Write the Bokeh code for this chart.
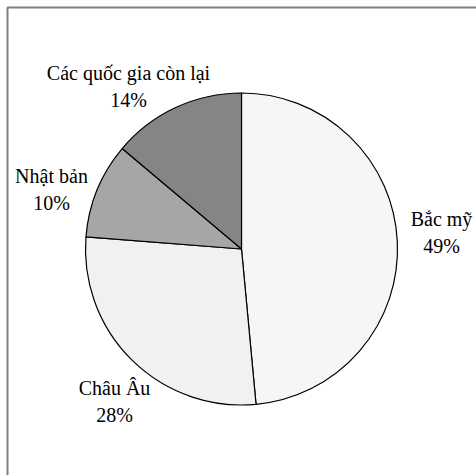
import math
from bokeh.plotting import figure
from bokeh.models import Range1d, ColumnDataSource, BoxAnnotation
from bokeh.core.properties import value
from bokeh.embed import file_html
from bokeh.resources import INLINE

# data
categories = ["Bắc mỹ", "Châu Âu", "Nhật bản", "Các quốc gia còn lại"]
values = [49, 28, 10, 14]
value_labels = ["49%", "28%", "10%", "14%"]

# styles / layout
colors = ["#f6f6f6", "#f1f1f1", "#a6a6a6", "#858585"]
W, H = 476, 475
cx, cy = 241, H - 248.5   # pie centre (data units = px)
R = 156
# label block centres (screen offsets from pie centre, px)
label_dx = [200, -127, -190, -113]
label_dy = [-17, 152, -60, -163]
line_gap = 13.5

total = sum(values)
starts, ends = [], []
a = math.pi / 2
for v in values:
    starts.append(a)
    a -= 2 * math.pi * v / total
    ends.append(a)

src = ColumnDataSource(dict(start=starts, end=ends, color=colors))

p = figure(width=W, height=H, output_backend="svg", toolbar_location=None,
           x_range=Range1d(0, W), y_range=Range1d(0, H), min_border=0)
p.axis.visible = False
p.grid.visible = False
p.outline_line_color = None
p.background_fill_color = "white"

# chart frame (only left and top edges fall inside the picture)
p.add_layout(BoxAnnotation(left=7, right=W + 30, bottom=-30, top=H - 7,
                           fill_alpha=0, line_color="#7f7f7f", line_width=2,
                           line_alpha=1))

p.wedge(x=cx, y=cy, radius=R, start_angle="start", end_angle="end",
        direction="clock", fill_color="color", line_color="black",
        line_width=1.2, source=src)

lx = [cx + d for d in label_dx]
ly1 = [cy - d + line_gap for d in label_dy]
ly2 = [cy - d - line_gap for d in label_dy]
p.text(x=lx, y=ly1, text=categories, text_align="center", text_baseline="middle",
       text_font=value("Liberation Serif"), text_font_size="20px", text_color="black")
p.text(x=lx, y=ly2, text=value_labels, text_align="center", text_baseline="middle",
       text_font=value("Liberation Serif"), text_font_size="20px", text_color="black")

open("out.html", "w").write(file_html(p, INLINE))
